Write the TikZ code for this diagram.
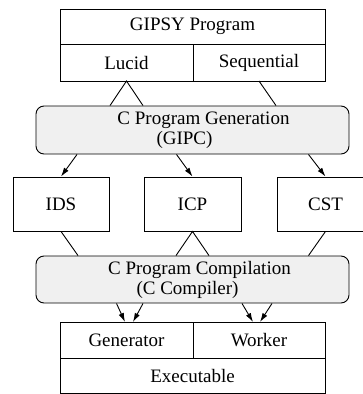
\documentclass[tikz,border=0pt]{standalone}
\usepackage{fontspec}
\setmainfont{Liberation Serif}
\newfontfamily\diagfont{Liberation Serif}
\usepackage{tikz}
\usetikzlibrary{arrows.meta,positioning,calc}

\begin{document}
\begin{tikzpicture}[
    x=1pt, y=-1pt, line width=0.9pt,
    font=\diagfont\fontsize{19}{20}\selectfont,
    cell/.style={rectangle, draw, outer sep=0pt, inner sep=0pt, minimum height=36pt, text centered},
    stage/.style={rectangle, draw, rounded corners=8pt, fill=black!6, minimum width=313pt, minimum height=48pt, align=center},
    file/.style={rectangle, draw, minimum width=97pt, minimum height=54pt, text centered},
    arrow/.style={-{Latex[length=9pt,width=5.5pt]}}
  ]
    \useasboundingbox (0,0) rectangle (363,394);
    % Nodes
    \node[cell, minimum width=265pt, minimum height=35pt] (gipsy) at (192.5,26.5) {GIPSY Program};
    \node[cell, minimum width=133pt, minimum height=37pt, below right=0pt of gipsy.south west] (lucid) {Lucid};
    \node[cell, minimum width=132pt, minimum height=37pt, below left=0pt of gipsy.south east] (seq) {Sequential};
    \node[stage] (gen) at (192.5,130) {\hspace*{22pt}C Program Generation\\(GIPC)\hspace*{16pt}};
    \node[file, minimum width=96pt] (ids) at (61,204) {IDS};
    \node[file] (icp) at (192.5,204) {ICP};
    \node[file] (cst) at (325.5,204) {CST};
    \node[stage, minimum height=47pt] (comp) at (192.5,279.5) {\hspace*{14pt}C Program Compilation\\(C Compiler)\hspace*{10pt}};
    \node[cell, minimum width=133pt] (generator) at (126.5,340) {Generator};
    \node[cell, minimum width=132pt, right=0pt of generator] (worker) {Worker};
    \node[cell, minimum width=265pt, minimum height=35pt, below right=0pt of generator.south west] (exec) {Executable};

    % Lines into the generation step
    \draw ($(lucid.south |- gen.north)+(-16.5,0)$) -- (lucid.south) -- ($(lucid.south |- gen.north)+(16.5,0)$);
    \draw (seq.south) -- ($(seq.south |- gen.north)+(17,0)$);

    % Arrows
    \draw[arrow] ($(ids.north |- gen.south)+(16,0)$) -- (ids.north);
    \draw[arrow] ($(icp.north |- gen.south)+(-16,0)$) -- (icp.north);
    \draw[arrow] ($(cst.north |- gen.south)+(-17,0)$) -- (cst.north);

    \draw (ids.south) -- ($(ids.south |- comp.north)+(17,0)$);
    \draw ($(icp.south |- comp.north)+(-16.5,0)$) -- (icp.south) -- ($(icp.south |- comp.north)+(16.5,0)$);
    \draw (cst.south) -- ($(cst.south |- comp.north)+(-17,0)$);

    \draw[arrow] ($(generator.north |- comp.south)+(-10,0)$) -- ($(generator.north)+(-1.5,0)$);
    \draw[arrow] ($(generator.north |- comp.south)+(16.5,0)$) -- ($(generator.north)+(6.5,0)$);
    \draw[arrow] ($(worker.north |- comp.south)+(-17,0)$) -- ($(worker.north)+(-6,0)$);
    \draw[arrow] ($(worker.north |- comp.south)+(13,0)$) -- ($(worker.north)+(1,0)$);
  \end{tikzpicture}
\end{document}
